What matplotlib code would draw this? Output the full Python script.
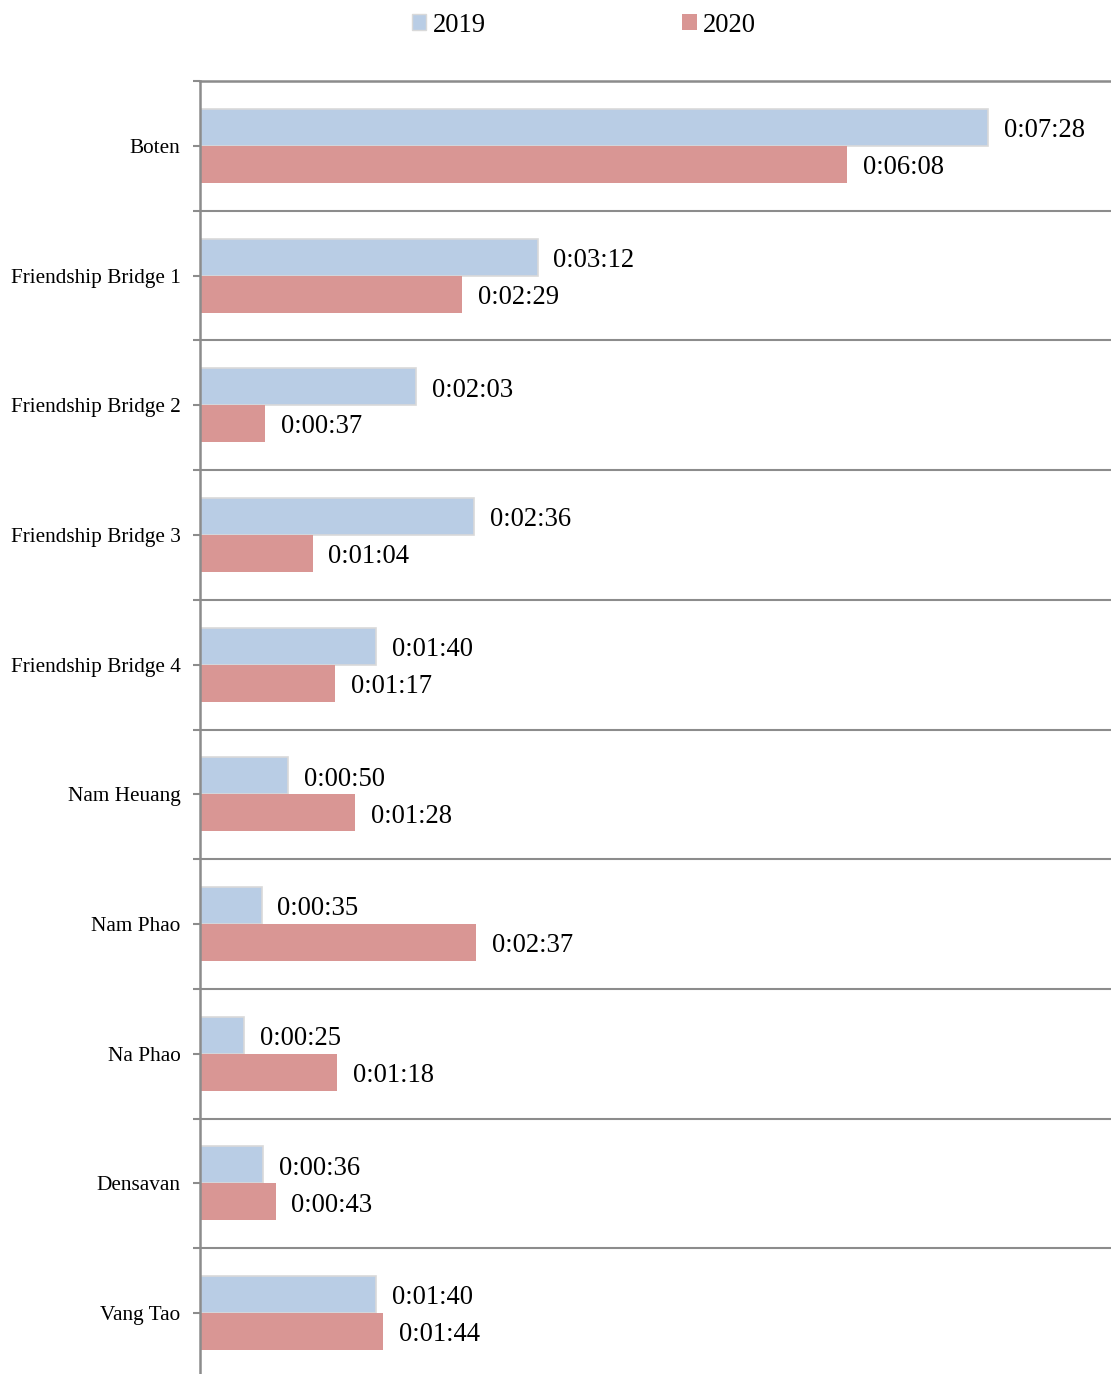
import matplotlib.pyplot as plt
import numpy as np
from matplotlib.patches import Patch

plt.rcParams['font.family'] = ['Liberation Serif', 'DejaVu Serif']

# tempo médio por posto de fronteira (em segundos)
postos = ["Boten", "Friendship Bridge 1", "Friendship Bridge 2", "Friendship Bridge 3",
          "Friendship Bridge 4", "Nam Heuang", "Nam Phao", "Na Phao", "Densavan", "Vang Tao"]
seg_2019 = [448, 192, 123, 156, 100, 50, 35, 25, 36, 100]
seg_2020 = [368, 149, 37, 64, 77, 88, 157, 78, 43, 104]

cor_2019 = "#B9CDE5"
cor_2020 = "#D99694"
cinza = "#8C8C8C"


def hms(s):
    return "%d:%02d:%02d" % (s // 3600, (s % 3600) // 60, s % 60)


fig = plt.figure(figsize=(11.11, 13.74), dpi=100)
ax = fig.add_axes([200 / 1111, -4 / 1374, 911 / 1111, (1374 - 81 + 4) / 1374])

y = np.arange(len(postos))
h = 0.285
ax.barh(y - h / 2, seg_2019, height=h, color=cor_2019, edgecolor="#D9D9D9", linewidth=1.2)
ax.barh(y + h / 2, seg_2020, height=h, color=cor_2020, edgecolor="none")

# rótulos um pouco abaixo do centro da barra
dy = 0.025
for i in range(len(postos)):
    ax.text(seg_2019[i] + 9, y[i] - h / 2 + dy, hms(seg_2019[i]), va="center", ha="left", fontsize=19.2)
    ax.text(seg_2020[i] + 9, y[i] + h / 2 + dy, hms(seg_2020[i]), va="center", ha="left", fontsize=19.2)

ax.set_xlim(0, 518)
ax.set_ylim(len(postos) - 0.5, -0.5)
ax.set_yticks(y)
ax.set_yticklabels(postos, fontsize=15.3)
ax.set_yticks(np.arange(len(postos) + 1) - 0.5, minor=True)
ax.tick_params(axis="y", which="both", length=5, color=cinza, width=1.5, pad=9)
ax.set_xticks([])
ax.grid(axis="y", which="minor", color=cinza, linewidth=1.5)
ax.set_axisbelow(True)

for lado in ["right", "bottom"]:
    ax.spines[lado].set_visible(False)
ax.spines["left"].set_color(cinza)
ax.spines["left"].set_linewidth(1.8)
ax.spines["top"].set_color(cinza)
ax.spines["top"].set_linewidth(1.8)

itens = [Patch(facecolor=cor_2019, edgecolor="#D9D9D9", label="2019"),
         Patch(facecolor=cor_2020, edgecolor="none", label="2020")]
fig.legend(handles=itens, loc="center", bbox_to_anchor=(584 / 1111, 1 - 25 / 1374), ncol=2,
           frameon=False, fontsize=19.2, handlelength=0.55, handleheight=0.55,
           handletextpad=0.25, columnspacing=7.35)

fig.savefig("out.png", dpi=100)
